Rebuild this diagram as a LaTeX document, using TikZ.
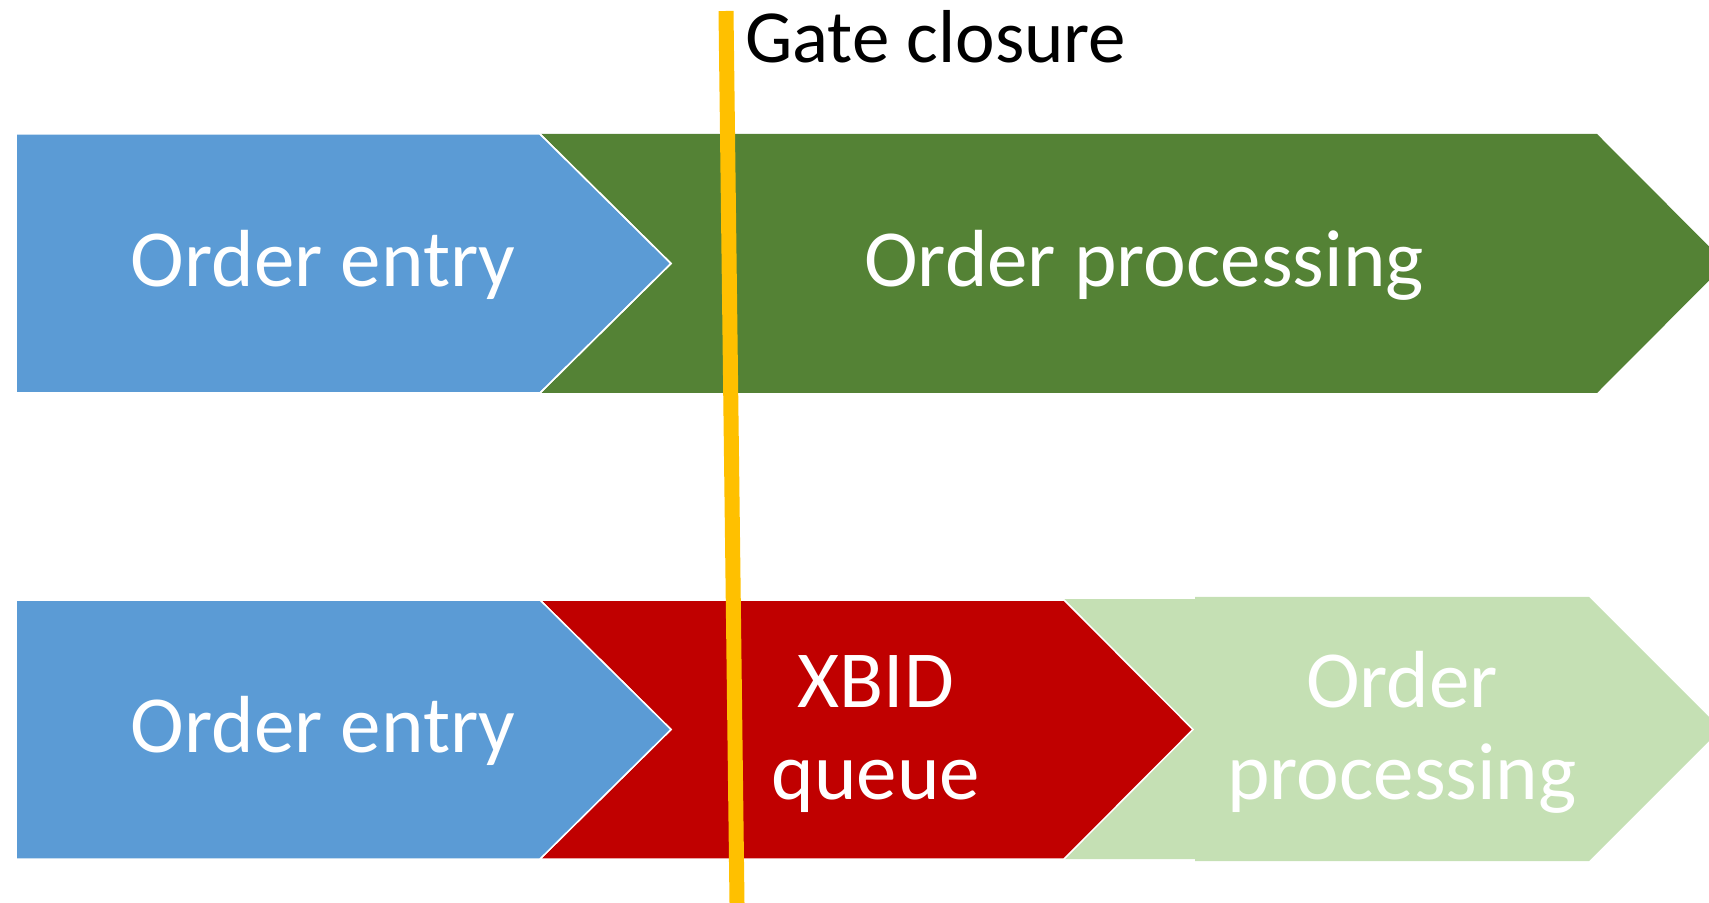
\documentclass[tikz,border=0pt]{standalone}
\usepackage{fontspec}
\setmainfont{Carlito}
\usepackage{tikz}
\definecolor{entryblue}{HTML}{5B9BD5}
\definecolor{procgreen}{HTML}{548235}
\definecolor{queuered}{HTML}{C00000}
\definecolor{palegreen}{HTML}{C5E0B4}
\definecolor{gateyellow}{HTML}{FFC000}

\begin{document}
\begin{tikzpicture}[x=0.5pt,y=-0.5pt,
      chevron/.style={draw=white,line width=0.75pt},
      label/.style={text=white,inner sep=0pt,align=center,
        font=\fontsize{40.5}{46}\selectfont}]
      \useasboundingbox (0,0) rectangle (1709,903);

      % top row
      \fill[procgreen] (540,134) -- (1597,134) -- (1726,263.5) -- (1597,393)
        -- (540,393) -- (671,263.5) -- cycle;
      \filldraw[chevron,fill=entryblue] (16,134) -- (540,134) -- (671,263.5)
        -- (540,393) -- (16,393) -- cycle;
      \draw[white,line width=0.75pt] (540,134) -- (671,263.5) -- (540,393);

      % bottom row
      \fill[palegreen] (1064,599) -- (1195,599) -- (1195,597) -- (1589,597)
        -- (1721,729) -- (1589,861) -- (1195,861) -- (1195,859) -- (1064,859)
        -- (1193,729.5) -- cycle;
      \filldraw[chevron,fill=queuered] (540,600) -- (1064,600) -- (1193,729.5)
        -- (1064,859) -- (540,859) -- (671,729.5) -- cycle;
      \filldraw[chevron,fill=entryblue] (16,600) -- (540,600) -- (671,729.5)
        -- (540,859) -- (16,859) -- cycle;

      \node[label,anchor=base] (entry1) at (323,287) {Order entry};
      \node[label,anchor=base] (proc1) at (1144,287) {Order processing};
      \node[label,anchor=base] (entry2) at (323,752) {Order entry};
      \node[label] (queue) at (876,734) {XBID\\queue};
      \node[label] (proc2) at (1402,732) {Order\\processing};

      % gate closure
      \coordinate (gtop) at (726,11);
      \coordinate (gbot) at (737,903);
      \draw[gateyellow,line width=7.5pt] (gtop) -- (gbot);
      \node[anchor=base west,inner sep=0pt,font=\fontsize{37.5}{44}\selectfont]
        (gate) at (745,63) {Gate closure};
\end{tikzpicture}
\end{document}
